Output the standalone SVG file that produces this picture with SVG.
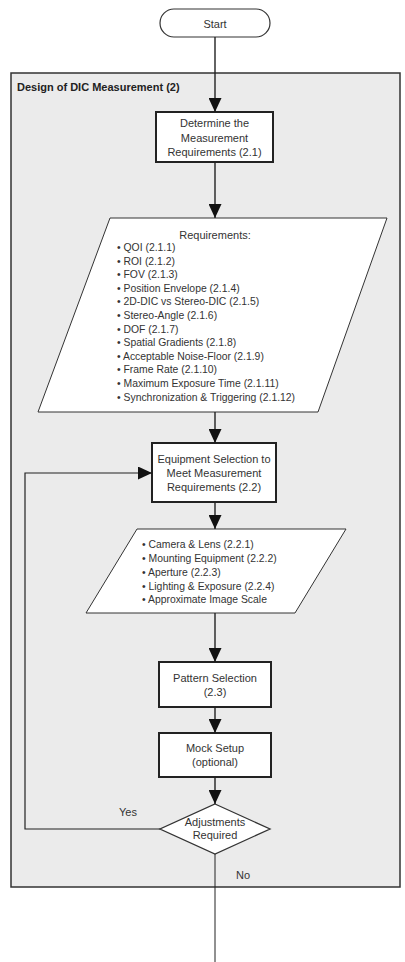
<svg xmlns="http://www.w3.org/2000/svg" width="405" height="962" viewBox="0 0 405 962">
<style>
text{font-family:"Liberation Sans",Arial,sans-serif;fill:#333;}
.c{font-size:11px;text-anchor:middle;}
.b{font-size:10.4px;}
.t{font-size:11px;font-weight:bold;fill:#222;}
.box{fill:#fff;stroke:#222;stroke-width:2;}
.par{fill:#fff;stroke:#333;stroke-width:1;}
.dia{fill:#fff;stroke:#333;stroke-width:1.3;}
.con path{fill:none;stroke:#222;stroke-width:1.4;}
</style>
<defs>
<marker id="ah" markerUnits="userSpaceOnUse" markerWidth="15" markerHeight="13" refX="14" refY="6.5" orient="auto">
<path d="M0,0 L14,6.5 L0,13 z" fill="#111"/>
</marker>
</defs>
<g id="container">
<rect x="11" y="73" width="389" height="814" fill="#ebebeb" stroke="#333" stroke-width="1.5"/>
<text class="t" x="17" y="91">Design of DIC Measurement (2)</text>
</g>
<g id="start">
<rect x="160" y="9" width="110" height="28" rx="14" ry="14" fill="#fff" stroke="#333" stroke-width="1.2"/>
<text class="c" x="215" y="27.5">Start</text>
</g>
<g id="determine">
<rect class="box" x="156" y="112" width="117" height="50"/>
<text class="c" x="214.5" y="127">Determine the</text>
<text class="c" x="214.5" y="141.5">Measurement</text>
<text class="c" x="214.5" y="156">Requirements (2.1)</text>
</g>
<g id="requirements">
<polygon class="par" points="110,218 387,218 318,412 38,412"/>
<text class="c" x="215" y="238.5">Requirements:</text>
<text class="b" x="117" y="251">• QOI (2.1.1)</text>
<text class="b" x="117" y="264.6">• ROI (2.1.2)</text>
<text class="b" x="117" y="278.2">• FOV (2.1.3)</text>
<text class="b" x="117" y="291.8">• Position Envelope (2.1.4)</text>
<text class="b" x="117" y="305.4">• 2D-DIC vs Stereo-DIC (2.1.5)</text>
<text class="b" x="117" y="319">• Stereo-Angle (2.1.6)</text>
<text class="b" x="117" y="332.6">• DOF (2.1.7)</text>
<text class="b" x="117" y="346.2">• Spatial Gradients (2.1.8)</text>
<text class="b" x="117" y="359.8">• Acceptable Noise-Floor (2.1.9)</text>
<text class="b" x="117" y="373.4">• Frame Rate (2.1.10)</text>
<text class="b" x="117" y="387">• Maximum Exposure Time (2.1.11)</text>
<text class="b" x="117" y="400.6">• Synchronization &amp; Triggering (2.1.12)</text>
</g>
<g id="equipment">
<rect class="box" x="152" y="443" width="124" height="59"/>
<text class="c" x="214" y="463">Equipment Selection to</text>
<text class="c" x="214" y="477">Meet Measurement</text>
<text class="c" x="214" y="491">Requirements (2.2)</text>
</g>
<g id="equipment-list">
<polygon class="par" points="137,529 346,529 295,613 86,613"/>
<text class="b" x="142" y="548">• Camera &amp; Lens (2.2.1)</text>
<text class="b" x="142" y="562">• Mounting Equipment (2.2.2)</text>
<text class="b" x="142" y="576">• Aperture (2.2.3)</text>
<text class="b" x="142" y="590">• Lighting &amp; Exposure (2.2.4)</text>
<text class="b" x="142" y="603">• Approximate Image Scale</text>
</g>
<g id="pattern">
<rect class="box" x="159" y="662" width="112" height="45"/>
<text class="c" x="215" y="682">Pattern Selection</text>
<text class="c" x="215" y="696">(2.3)</text>
</g>
<g id="mock">
<rect class="box" x="159" y="733" width="112" height="44"/>
<text class="c" x="215" y="752">Mock Setup</text>
<text class="c" x="215" y="766">(optional)</text>
</g>
<g id="decision">
<polygon class="dia" points="215,804 270,829 215,854 160,829"/>
<text class="c" x="215" y="826">Adjustments</text>
<text class="c" x="215" y="839">Required</text>
</g>
<g class="con" id="connectors">
<path d="M215,37 V112" marker-end="url(#ah)"/>
<path d="M215,162 V218" marker-end="url(#ah)"/>
<path d="M215,412 V443" marker-end="url(#ah)"/>
<path d="M215,502 V529" marker-end="url(#ah)"/>
<path d="M215,613 V662" marker-end="url(#ah)"/>
<path d="M215,707 V733" marker-end="url(#ah)"/>
<path d="M215,777 V804" marker-end="url(#ah)"/>
<path d="M215,854 V962" style="stroke-width:1"/>
<path d="M160,829 H25 V473 H152" style="stroke-width:1.2" marker-end="url(#ah)"/>
<text class="c" x="128" y="816">Yes</text>
<text class="c" x="243" y="879">No</text>
</g>
</svg>
